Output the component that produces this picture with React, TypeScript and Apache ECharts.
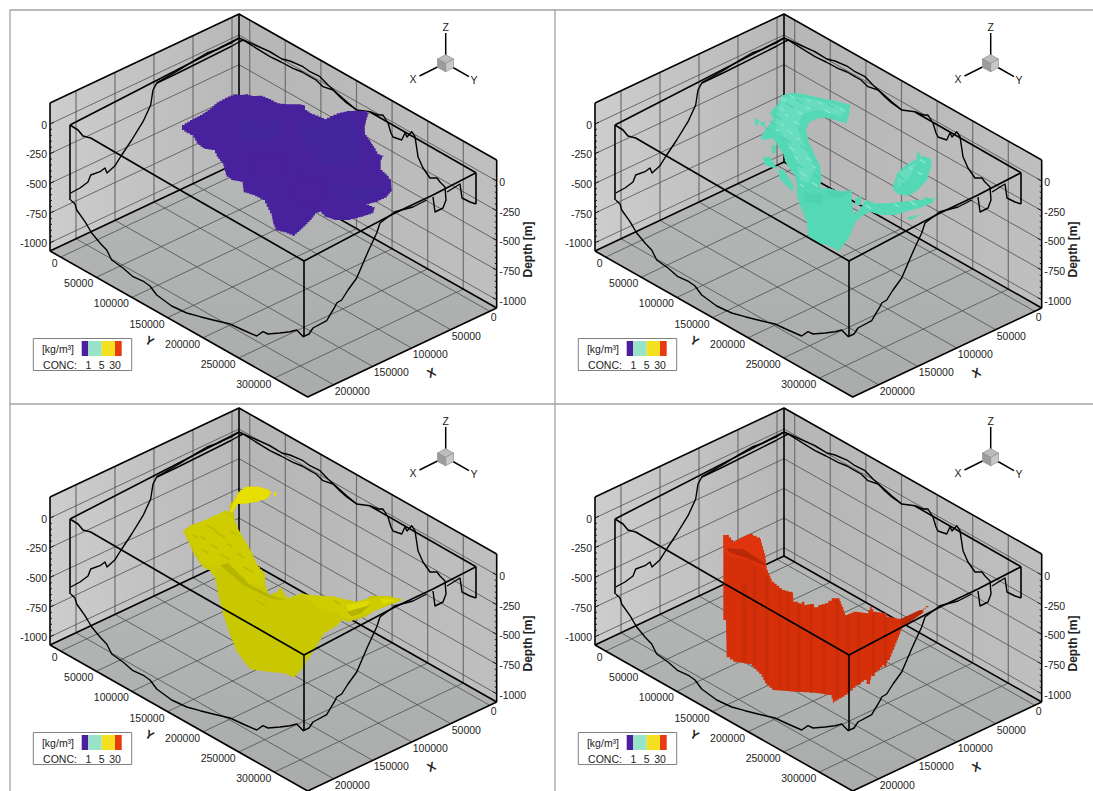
import React, { useEffect, useRef } from "react";
import * as echarts from "echarts";

type Pt = number[];

// ---- tick values
const X_TICKS = [0, 50000, 100000, 150000, 200000];
const Y_TICKS = [0, 50000, 100000, 150000, 200000, 250000, 300000];
const DEPTH_TICKS = [0, -250, -500, -750, -1000];
const LEGEND_VALUES = ["1", "5", "30"];
const LEGEND_COLORS = ["#4b1fa0", "#98e4c8", "#f5e020", "#e83a10"];
const X_RANGE = [-8970, 233340];
const Y_RANGE = [-15028, 346900];
const DEPTH_RANGE = [-1069, 177];

// ---- coastline traces, on the picture plane of one panel
const COAST_LEFT: Pt[] = [[70.7, 193], [80, 188], [88, 182], [90.7, 175], [100, 171.7], [105, 168], [107, 173], [115, 165.7], [121.7, 155], [131.7, 140], [143, 121.7], [150.7, 105], [153, 90], [157, 82.7], [180, 69.5], [195, 60], [207, 53], [217, 49.5], [224, 46], [232, 42.5], [239, 38]];
const COAST_BACK_LOW: Pt[] = [[157, 83], [180, 72], [231, 46.5], [239, 42], [243, 40], [270, 56.7], [281, 62], [293, 68.3], [302, 72], [310, 76.7], [316, 80], [323, 86.7], [333, 90], [340, 97], [346.7, 103], [356.7, 110], [370, 111.7]];
const COAST_BACK_UP: Pt[] = [[239, 38], [270, 51.7], [282, 59], [290, 61], [303, 66.7], [310, 71.7], [320, 76.7], [328, 85], [338, 94], [346.7, 101.7], [356.7, 110]];
const COAST_RIGHT: Pt[] = [[370, 111.7], [378, 115], [383, 115], [388, 123], [391, 133], [393, 137], [401.7, 140], [405, 133], [407, 137], [411.7, 131.7], [415, 136.7], [418, 156.7], [423, 168], [430, 178], [437, 178], [440, 182], [445, 187], [446, 200], [443, 208], [435, 212], [433, 197]];
const COAST_NOTCH: Pt[] = [[447, 192], [460, 184], [462, 198], [470, 202], [476, 204]];
const COAST_FRONT: Pt[] = [[70.7, 200], [75, 204], [76.7, 210], [85, 221.7], [91.7, 233], [100, 243], [106.7, 250], [111.7, 260], [123, 268], [133, 276.7], [144, 281.7], [150, 286], [156.7, 295], [171.7, 306], [186.7, 313], [200, 316.7], [213, 320], [230, 324], [243, 330], [256.7, 336], [263, 331.7], [268, 334], [280, 333], [290, 331.7], [296.7, 330], [303.3, 336.7], [309, 334], [313, 328], [326.7, 320.7], [335, 306.7], [336.7, 303], [341.7, 300], [348, 290], [356.7, 278], [368, 251.7], [376.7, 233], [380, 223], [395, 211.7], [413, 207], [426.7, 200]];
const SURFACE_TOP_LEFT: Pt[] = [[70, 125], [239, 38]];
const SURFACE_TOP_RIGHT: Pt[] = [[370, 112], [476, 172.7]];
const SURFACE_LEFT_FRONT: Pt[] = [[70, 125], [78, 130], [83, 136], [90.7, 138], [180, 190], [250, 230], [304, 261]];
const SURFACE_RIGHT_FRONT: Pt[] = [[304, 261], [395, 213], [433, 195], [476, 172.7]];
const SURFACE_V_LEFT: Pt[] = [[70, 125], [70, 200]];
const SURFACE_V_MID: Pt[] = [[304, 261], [304, 337]];
const SURFACE_V_RIGHT: Pt[] = [[476, 172.7], [476, 204]];

const crop = (ox: number, oy: number, pts: Pt[]): Pt[] => pts.map(([a, b]) => [ox + a / 3, oy + b / 3]);

// ---- iso-surface silhouettes
const PURPLE = crop(170, 85, [[36, 120], [60, 105], [90, 90], [120, 70], [140, 52], [165, 38], [190, 28], [210, 30], [225, 28], [245, 33], [270, 32], [295, 42], [320, 55], [350, 58], [385, 58], [403, 62], [405, 75], [425, 88], [445, 95], [462, 103], [480, 93], [500, 85], [530, 78], [560, 77], [585, 78], [596, 88], [590, 105], [584, 130], [585, 150], [600, 170], [612, 190], [622, 208], [640, 215], [632, 232], [632, 255], [650, 272], [662, 290], [665, 320], [650, 338], [625, 350], [590, 360], [615, 370], [610, 385], [580, 395], [540, 405], [500, 405], [470, 395], [455, 380], [440, 385], [425, 405], [400, 430], [375, 452], [350, 442], [320, 435], [310, 410], [305, 385], [295, 365], [285, 345], [255, 330], [222, 320], [218, 290], [190, 285], [170, 270], [160, 235], [145, 215], [135, 195], [105, 190], [85, 175], [70, 150], [50, 140], [36, 130]]);
const PURPLE_SHADE = [
  crop(170, 85, [[380, 110], [560, 95], [575, 170], [560, 250], [450, 230], [400, 180]]),
  crop(170, 85, [[480, 300], [640, 310], [610, 345], [520, 350]]),
  crop(170, 85, [[200, 100], [330, 110], [320, 160], [220, 170]]),
];
const PURPLE_WARM = [
  crop(170, 85, [[380, 270], [470, 290], [440, 360], [370, 340]]),
  crop(170, 85, [[240, 200], [340, 210], [330, 270], [250, 270]]),
];

const AQUA_MAIN = crop(195, 80, [[330, 75], [328, 105], [320, 130], [295, 122], [265, 113], [235, 115], [210, 128], [198, 150], [205, 185], [222, 225], [240, 260], [245, 300], [240, 325], [265, 325], [300, 335], [335, 330], [335, 370], [340, 400], [360, 385], [375, 360], [400, 370], [440, 370], [480, 365], [530, 360], [588, 352], [578, 370], [540, 385], [500, 395], [470, 405], [430, 405], [390, 395], [365, 410], [345, 430], [330, 470], [300, 513], [265, 495], [235, 490], [205, 465], [200, 420], [185, 385], [172, 350], [170, 310], [165, 285], [140, 250], [128, 215], [115, 195], [100, 175], [75, 180], [60, 170], [70, 155], [85, 135], [100, 115], [90, 95], [115, 68], [125, 45], [160, 38], [200, 45], [240, 55], [280, 62], [310, 70]]);
const AQUA_PIECES = [
  crop(195, 80, [[45, 115], [58, 125], [52, 138], [44, 130]]),
  crop(195, 80, [[62, 125], [76, 125], [74, 138], [62, 138]]),
  crop(195, 80, [[95, 195], [108, 200], [106, 220], [95, 218]]),
  crop(195, 80, [[70, 230], [90, 232], [110, 265], [95, 262], [72, 250]]),
  crop(195, 80, [[115, 268], [130, 270], [145, 295], [160, 320], [158, 333], [140, 315], [118, 292]]),
  crop(195, 80, [[345, 355], [365, 345], [362, 375], [345, 375]]),
  crop(195, 80, [[535, 210], [540, 228], [570, 235], [575, 260], [560, 305], [530, 335], [505, 348], [470, 340], [458, 320], [470, 280], [495, 255], [530, 235], [530, 220]]),
  crop(195, 80, [[505, 410], [545, 402], [520, 418], [503, 420]]),
];
const AQUA_LIGHT = [
  crop(195, 80, [[125, 50], [200, 55], [290, 75], [320, 90], [300, 110], [240, 90], [190, 100], [170, 140], [195, 200], [225, 270], [205, 310], [180, 300], [165, 230], [130, 170], [105, 130]]),
  crop(195, 80, [[470, 285], [530, 245], [510, 290], [475, 325]]),
];
const AQUA_DABS = crop(195, 80, [[130, 60], [158, 52], [178, 66], [205, 62], [240, 70], [272, 78], [305, 90], [125, 88], [150, 78], [205, 85], [262, 95], [112, 112], [140, 108], [180, 100], [100, 132], [128, 136], [170, 130], [85, 150], [112, 152], [150, 158], [140, 182], [175, 178], [155, 208], [192, 205], [168, 235], [205, 238], [178, 258], [222, 262], [190, 285], [228, 288], [185, 318], [225, 315], [482, 292], [512, 266], [548, 245], [495, 318], [540, 282], [385, 382], [425, 384], [470, 378], [520, 372], [565, 360]]);
const AQUA_DARK = [
  crop(195, 80, [[190, 335], [250, 345], [245, 372], [195, 365]]),
  crop(195, 80, [[260, 332], [330, 335], [305, 350], [265, 350]]),
];

const YELLOW_MAIN = crop(170, 76, [[190, 90], [205, 65], [225, 50], [260, 50], [290, 58], [305, 70], [295, 85], [265, 95], [235, 100], [205, 102], [190, 125], [195, 155], [205, 185], [225, 215], [245, 250], [260, 285], [285, 315], [285, 345], [295, 375], [320, 365], [330, 350], [340, 370], [350, 385], [390, 370], [420, 375], [450, 378], [490, 380], [530, 395], [560, 395], [590, 385], [600, 378], [650, 378], [700, 390], [660, 405], [620, 420], [590, 440], [540, 455], [520, 450], [500, 470], [465, 490], [440, 530], [415, 570], [395, 600], [375, 622], [345, 610], [300, 605], [245, 598], [225, 575], [200, 540], [180, 490], [160, 430], [145, 370], [135, 320], [120, 300], [100, 290], [70, 245], [50, 200], [40, 180], [60, 165], [105, 150], [140, 140], [160, 122], [178, 125], [180, 100]]);
const YELLOW_DOT = crop(170, 76, [[312, 65], [320, 70], [316, 82], [312, 75]]);
const YELLOW_TAIL = crop(170, 76, [[190, 95], [205, 65], [225, 50], [260, 50], [290, 58], [305, 70], [295, 85], [265, 95], [235, 100], [205, 102], [190, 125], [180, 120]]);
const YELLOW_UPPER = [
  crop(170, 76, [[45, 180], [105, 150], [160, 125], [190, 150], [225, 215], [260, 285], [285, 320], [280, 350], [230, 340], [170, 300], [120, 290], [90, 270]]),
  crop(170, 76, [[400, 375], [490, 380], [560, 395], [650, 378], [695, 390], [620, 420], [540, 450], [500, 430], [440, 410]]),
];
const YELLOW_BRIGHT = [
  crop(170, 76, [[530, 405], [600, 392], [580, 425], [540, 440]]),
  crop(170, 76, [[630, 385], [680, 390], [640, 402]]),
];
const YELLOW_SHADOW = [
  crop(170, 76, [[150, 285], [175, 280], [240, 345], [300, 375], [350, 392], [300, 385], [220, 345]]),
  crop(170, 76, [[530, 425], [600, 405], [575, 430], [545, 440]]),
];
const YELLOW_DABS = crop(170, 76, [[100, 205], [135, 232], [165, 262], [190, 308], [215, 322], [150, 195], [180, 228], [212, 258], [235, 300], [75, 200], [105, 245], [125, 175], [190, 190], [500, 398], [272, 400]]);

const RED_MAIN = crop(165, 126, [[40, 45], [50, 45], [70, 68], [90, 55], [118, 42], [150, 58], [165, 110], [170, 150], [185, 185], [215, 210], [235, 215], [248, 220], [250, 245], [262, 245], [265, 252], [275, 245], [283, 255], [300, 252], [312, 262], [325, 255], [345, 250], [365, 235], [385, 235], [400, 270], [405, 285], [430, 275], [470, 280], [480, 260], [490, 275], [520, 280], [530, 290], [570, 298], [600, 285], [630, 270], [655, 258], [640, 278], [610, 300], [578, 325], [560, 370], [540, 420], [510, 450], [485, 470], [480, 492], [470, 480], [445, 495], [420, 520], [395, 535], [372, 548], [365, 525], [320, 518], [260, 515], [195, 510], [170, 490], [155, 462], [125, 432], [80, 425], [50, 405], [48, 300], [40, 295]]);
const RED_TOP = crop(165, 126, [[40, 45], [50, 45], [70, 68], [90, 55], [118, 42], [150, 58], [165, 110], [170, 150], [120, 120], [60, 110], [42, 95]]);
const RED_SHADOW = [
  crop(165, 126, [[50, 85], [100, 88], [165, 130], [165, 138], [115, 116], [60, 98]]),
  crop(165, 126, [[570, 298], [630, 270], [640, 278], [600, 305], [575, 320]]),
];
const RED_STRIPES = [[95, 110, 190, 428], [128, 140, 140, 436], [165, 176, 170, 486], [205, 214, 205, 510], [228, 238, 218, 512], [262, 272, 250, 515], [300, 308, 256, 518], [336, 346, 254, 520], [376, 388, 240, 530], [408, 418, 285, 518], [440, 452, 280, 494], [486, 494, 278, 468], [522, 530, 292, 440]];

const PANELS = [
  { col: 0, row: 0, base: "#47229c" },
  { col: 1, row: 0, base: "#55d8b5" },
  { col: 0, row: 1, base: "#c9c800" },
  { col: 1, row: 1, base: "#d53009" },
];

const FONT = "'Liberation Sans', Arial, sans-serif";
const INK = "#222222";
const COAST_W = 1.4;
const BOX_W = 1.6;

const P = (x: number, y: number, d: number): Pt => [
  239 + ((x - X_RANGE[0]) * -39) / 50000 + ((y - Y_RANGE[0]) * 35.6) / 50000,
  162 + ((x - X_RANGE[0]) * 18.37) / 50000 + ((y - Y_RANGE[0]) * 20.17) / 50000 - (d - DEPTH_RANGE[0]) * 0.1188,
];

type Item =
  | { k: "poly"; pts: Pt[]; fill: any; stroke?: string; w?: number; jag?: number }
  | { k: "line"; pts: Pt[]; stroke: string; w: number }
  | { k: "text"; at: Pt; text: string; align: string; size?: number; bold?: boolean; rot?: number };

const poly = (pts: Pt[], fill: any, stroke?: string, w?: number): Item => ({ k: "poly", pts, fill, stroke, w });
const jagged = (pts: Pt[], fill: any, jag: number): Item => ({ k: "poly", pts, fill, jag });
const line = (pts: Pt[], w = COAST_W, stroke = "#000000"): Item => ({ k: "line", pts, stroke, w });
const text = (at: Pt, t: string, align = "center", extra: any = {}): Item => ({ k: "text", at, text: t, align, ...extra });
// short streak running down the fold of the surface
const streak = ([x, y]: Pt, len: number, n: number): Pt[] => {
  const l = len * (1 + (n % 3) * 0.4);
  return [[x - l, y - l * 0.5], [x - l + 1.2, y - l * 0.5 - 1.2], [x + l, y + l * 0.6 - 1.2], [x + l - 1, y + l * 0.6]];
};

// drawing style only: renders a traced edge as the voxel staircase of the picture
const staircase = (pts: Pt[], step: number): Pt[] => {
  const out: Pt[] = [];
  pts.forEach((a, i) => {
    const b = pts[(i + 1) % pts.length];
    const n = Math.max(1, Math.round(Math.hypot(b[0] - a[0], b[1] - a[1]) / step));
    let prev = a;
    out.push(a);
    for (let k = 1; k <= n; k++) {
      const q = [a[0] + ((b[0] - a[0]) * k) / n, a[1] + ((b[1] - a[1]) * k) / n];
      out.push([q[0], prev[1]], q);
      prev = q;
    }
  });
  return out;
};

function backdrop(): Item[] {
  const out: Item[] = [];
  const [x0, x1] = X_RANGE;
  const [y0, y1] = Y_RANGE;
  const [d0, d1] = DEPTH_RANGE;
  const grad = (a: string, b: string, x = 1, y = 0) =>
    new echarts.graphic.LinearGradient(0, 0, x, y, [{ offset: 0, color: a }, { offset: 1, color: b }]);
  out.push(poly([P(x1, y0, d0), P(x0, y0, d0), P(x0, y0, d1), P(x1, y0, d1)], grad("#cdcdcd", "#b8b8b8")));
  out.push(poly([P(x0, y0, d0), P(x0, y1, d0), P(x0, y1, d1), P(x0, y0, d1)], grad("#b6b6b6", "#bfbfbf")));
  out.push(poly([P(x0, y0, d0), P(x1, y0, d0), P(x1, y1, d0), P(x0, y1, d0)], grad("#b6b8b8", "#aaacac", 0, 1)));
  // floor grid
  X_TICKS.forEach((x) => out.push(line([P(x, y0, d0), P(x, y1, d0)], 0.8, "#4d4f4f")));
  Y_TICKS.forEach((y) => out.push(line([P(x0, y, d0), P(x1, y, d0)], 0.8, "#4d4f4f")));
  // wall grid
  X_TICKS.forEach((x) => out.push(line([P(x, y0, d0), P(x, y0, d1)], 1.2, "#6e6e74")));
  Y_TICKS.forEach((y) => out.push(line([P(x0, y, d0), P(x0, y, d1)], 1.2, "#6e6e74")));
  DEPTH_TICKS.forEach((d) => {
    out.push(line([P(x1, y0, d), P(x0, y0, d), P(x0, y1, d)], 0.8, "#4f4f4f"));
  });
  // ticks on depth axes
  for (let d = -1000; d <= 0; d += 50) {
    const major = DEPTH_TICKS.includes(d);
    const a = P(x1, y0, d);
    const b = P(x0, y1, d);
    out.push(line([a, [a[0] + (major ? 4 : 2), a[1] - (major ? 1.9 : 0.9)]], 0.9, "#111111"));
    out.push(line([b, [b[0] - (major ? 4 : 2), b[1] - (major ? 2.2 : 1.1)]], 0.9, "#111111"));
  }
  // box edges
  out.push(line([P(x1, y0, d1), P(x0, y0, d1), P(x0, y1, d1)], BOX_W));
  out.push(line([P(x1, y0, d0), P(x1, y0, d1)], BOX_W));
  out.push(line([P(x0, y1, d0), P(x0, y1, d1)], BOX_W));
  out.push(line([P(x0, y0, d0), P(x0, y0, d1)], BOX_W));
  out.push(line([P(x1, y0, d0), P(x0, y0, d0), P(x0, y1, d0)], BOX_W));
  out.push(line([P(x1, y0, d0), P(x1, y1, d0), P(x0, y1, d0)], BOX_W));
  // tick labels
  DEPTH_TICKS.forEach((d) => {
    const a = P(x1, y0, d);
    const b = P(x0, y1, d);
    out.push(text([a[0] - 3, a[1] + 0.5], String(d), "right"));
    out.push(text([b[0] + 2.5, b[1] + 1], String(d), "left"));
  });
  Y_TICKS.forEach((y) => {
    const a = P(x1, y, d0);
    out.push(text([a[0] - 3, a[1] + 6], String(y), "right"));
  });
  X_TICKS.forEach((x) => {
    const a = P(x, y1, d0);
    out.push(text([a[0] + 1, a[1] + 6], String(x), "left"));
  });
  out.push(text([527.5, 249.5], "Depth [m]", "center", { size: 12, bold: true, rot: Math.PI / 2 }));
  out.push(text([149.5, 341], "Y", "center", { size: 12, bold: true, rot: -Math.PI / 6 }));
  out.push(text([431.5, 373], "X", "center", { size: 12, bold: true, rot: (25 * Math.PI) / 180 }));
  // triad
  out.push(line([[445.7, 33], [445.7, 55]], 1.5));
  out.push(line([[419.5, 76], [437.5, 67]], 1.5));
  out.push(line([[453, 67.5], [469, 76.7]], 1.5));
  out.push(poly([[445.7, 54.6], [453.5, 59], [445.7, 63.5], [437.5, 59]], "#bcbcbc", "#858585", 0.6));
  out.push(poly([[437.5, 59], [445.7, 63.5], [445.7, 71.8], [437.5, 67.5]], "#9c9c9c", "#858585", 0.6));
  out.push(poly([[445.7, 63.5], [453.5, 59], [453.5, 67.5], [445.7, 71.8]], "#c8c8c8", "#858585", 0.6));
  out.push(text([445.7, 26.7], "Z"));
  out.push(text([413, 78.5], "X"));
  out.push(text([474, 80], "Y"));
  // back coastline
  out.push(line(COAST_LEFT));
  out.push(line(COAST_BACK_LOW));
  out.push(line(COAST_BACK_UP));
  out.push(line(COAST_RIGHT));
  out.push(line(COAST_NOTCH));
  out.push(line(SURFACE_TOP_LEFT, BOX_W));
  out.push(line(SURFACE_TOP_RIGHT, BOX_W));
  return out;
}

function blob(i: number, base: string): Item[] {
  if (i === 0) {
    return [
      jagged(PURPLE, base, 3),
      ...PURPLE_SHADE.map((p) => poly(p, "#44259d")),
      ...PURPLE_WARM.map((p) => poly(p, "#4a209b")),
    ];
  }
  if (i === 1) {
    return [
      jagged(AQUA_MAIN, base, 2.5),
      ...AQUA_PIECES.map((p) => jagged(p, base, 2.5)),
      ...AQUA_LIGHT.map((p) => poly(p, "#67dcbe")),
      ...AQUA_DARK.map((p) => poly(p, "#4dd3b0")),
      ...AQUA_DABS.map((p, n) => poly(streak(p, 2.4, n), n % 3 === 2 ? "#50d2ae" : "#83e6cc")),
    ];
  }
  if (i === 2) {
    return [
      jagged(YELLOW_MAIN, base, 2.5),
      poly(YELLOW_DOT, "#e8e000"),
      jagged(YELLOW_TAIL, "#e6df00", 2.5),
      ...YELLOW_UPPER.map((p) => poly(p, "#cfcd00")),
      ...YELLOW_BRIGHT.map((p) => poly(p, "#dedb00")),
      ...YELLOW_SHADOW.map((p) => poly(p, "#b5b400")),
      ...YELLOW_DABS.map((p, n) => poly(streak(p, 3, n), "#bcbb00")),
    ];
  }
  return [
    jagged(RED_MAIN, base, 3.5),
    ...RED_STRIPES.map(([a, b, t, c]) =>
      poly(crop(165, 126, [[a, t], [b, t], [b, c], [a, c]]), "#cb2d08")
    ),
    poly(RED_TOP, "#e0340e"),
    ...RED_SHADOW.map((p) => poly(p, "#bb2807")),
  ];
}

function foreground(): Item[] {
  const out: Item[] = [];
  out.push(line(COAST_FRONT));
  out.push(line(SURFACE_LEFT_FRONT, BOX_W));
  out.push(line(SURFACE_RIGHT_FRONT, BOX_W));
  out.push(line(SURFACE_V_LEFT, BOX_W));
  out.push(line(SURFACE_V_MID, BOX_W));
  out.push(line(SURFACE_V_RIGHT, BOX_W));
  // legend
  out.push(poly([[33.3, 338.5], [131.7, 338.5], [131.7, 370.5], [33.3, 370.5]], "#ffffff", "#808080", 1));
  const edges = [81.7, 88.3, 101.7, 115, 121.7];
  LEGEND_COLORS.forEach((c, i) => {
    out.push(poly([[edges[i], 341], [edges[i + 1], 341], [edges[i + 1], 356], [edges[i], 356]], c));
  });
  out.push(text([58, 348.5], "[kg/m³]"));
  out.push(text([60, 364.5], "CONC:"));
  LEGEND_VALUES.forEach((v, i) => out.push(text([edges[i + 1], 364.5], v)));
  // panel frame
  out.push(line([[10, 404], [10, 10], [555, 10]], 1.3, "#a4a4a4"));
  return out;
}

export default function App() {
  const ref = useRef<HTMLDivElement>(null);
  useEffect(() => {
    const chart = echarts.init(ref.current!, undefined, { renderer: "svg" });
    const grids = PANELS.map((p) => ({ left: p.col * 545, top: p.row * 394, width: 545, height: 394, containLabel: false, show: false }));
    const xAxis = PANELS.map((_, i) => ({ type: "value", gridIndex: i, min: 0, max: 545, show: false }));
    const yAxis = PANELS.map((_, i) => ({ type: "value", gridIndex: i, min: 0, max: 394, inverse: true, show: false }));
    const series = PANELS.map((p, i) => {
      const items: Item[] = [...backdrop(), ...blob(i, p.base), ...foreground()];
      return {
        type: "custom",
        name: "Panel " + (i + 1),
        coordinateSystem: "cartesian2d",
        xAxisIndex: i,
        yAxisIndex: i,
        silent: true,
        clip: false,
        data: items.map((_, n) => [n, 0]),
        renderItem: (params: any, api: any) => {
          const it = items[params.dataIndex];
          if (it.k === "poly") {
            const pts = it.jag ? staircase(it.pts, it.jag) : it.pts;
            return {
              type: "polygon",
              shape: { points: pts.map((q) => api.coord(q)) },
              style: { fill: it.fill, stroke: it.stroke || "none", lineWidth: it.w || 0 },
            };
          }
          if (it.k === "line") {
            return {
              type: "polyline",
              shape: { points: it.pts.map((q) => api.coord(q)) },
              style: { fill: "none", stroke: it.stroke, lineWidth: it.w, lineJoin: "round" },
            };
          }
          const c = api.coord(it.at);
          return {
            type: "text",
            x: c[0],
            y: c[1],
            rotation: it.rot || 0,
            style: {
              text: it.text,
              fill: INK,
              align: it.align,
              verticalAlign: "middle",
              fontSize: it.size || 10.5,
              fontWeight: it.bold ? "bold" : "normal",
              fontFamily: FONT,
            },
          };
        },
      };
    });
    chart.setOption({ animation: false, backgroundColor: "#ffffff", grid: grids, xAxis, yAxis, series });
    return () => chart.dispose();
  }, []);
  return <div ref={ref} style={{ position: "fixed", left: 0, top: 0, width: 1093, height: 791 }} />;
}
